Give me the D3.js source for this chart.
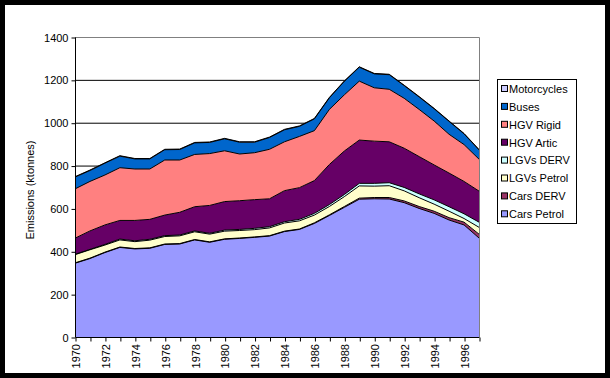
<!DOCTYPE html>
<html>
<head>
<meta charset="utf-8">
<script src="https://cdn.jsdelivr.net/npm/d3@7"></script>
<style>
  html, body { margin: 0; padding: 0; background: #000; }
  svg { display: block; }
  text { font-family: Arial, "Liberation Sans", sans-serif; }
</style>
</head>
<body>
<svg id="chart" width="610" height="378"></svg>
<script>
// ---- data ----
const years = [1970,1971,1972,1973,1974,1975,1976,1977,1978,1979,1980,1981,1982,1983,
               1984,1985,1986,1987,1988,1989,1990,1991,1992,1993,1994,1995,1996,1997];
const carsPetrol  = [344,366,394,418,411,414,432,434,453,442,456,460,465,471,492,502,530,567,605,643,645,644,627,600,577,546,523,462];
const carsDERV    = [2,2,2,2,2,2,2,2,2,2,2,2,2,2,2,2,3,3,4,5,6,7,8,9,10,11,13,18];
const lgvPetrol   = [38,39,33,33,32,36,35,36,36,36,36,35,34,36,38,38,36,39,46,57,53,55,47,41,33,30,17,32];
const lgvDERV     = [2,2,3,4,4,4,4,4,4,4,5,5,6,6,6,7,8,9,10,12,13,14,16,18,20,21,22,24];
const hgvArtic    = [75,86,91,87,95,93,96,106,113,130,133,134,134,130,145,148,153,187,203,202,197,191,183,174,163,157,151,145];
const hgvRigid    = [230,231,233,246,240,235,257,244,244,242,237,218,219,231,228,239,233,257,262,275,249,245,233,220,205,181,172,149];
const buses       = [55,51,55,54,47,47,48,49,54,52,56,55,49,55,56,47,55,54,63,65,65,68,59,58,57,60,50,43];
const motorcycles = [2,2,2,2,2,2,2,2,2,2,2,2,2,2,2,2,2,2,2,2,2,2,2,2,2,2,2,2];

const seriesNames = ["Cars Petrol","Cars DERV","LGVs Petrol","LGVs DERV","HGV Artic","HGV Rigid","Buses","Motorcycles"];
const seriesData  = [carsPetrol, carsDERV, lgvPetrol, lgvDERV, hgvArtic, hgvRigid, buses, motorcycles];
const seriesColors = ["#9999FF","#993366","#FFFFCC","#CCFFFF","#660066","#FF8080","#0066CC","#CCCCFF"];
const yTicks = [0,200,400,600,800,1000,1200,1400];
const xLabelYears = [1970,1972,1974,1976,1978,1980,1982,1984,1986,1988,1990,1992,1994,1996];
const yTitle = "Emissions (ktonnes)";

// ---- build table ----
const table = years.map((y, i) => {
  const row = { year: y };
  seriesNames.forEach((n, k) => row[n] = seriesData[k][i]);
  return row;
});
const stacked = d3.stack().keys(seriesNames)(table);

const svg = d3.select("#chart");
// frame
svg.append("rect").attr("x",0).attr("y",0).attr("width",610).attr("height",378).attr("fill","#000");
svg.append("rect").attr("x",5).attr("y",5).attr("width",600).attr("height",368).attr("fill","#fff");

const L = 75, R = 479, T = 37, B = 337;
const x = d3.scalePoint().domain(years).range([L, R]).padding(0);
const y = d3.scaleLinear().domain([0, 1400]).range([B, T]);

// gridlines
svg.append("g").selectAll("line").data(yTicks.filter(v => v > 0 && v < 1400)).join("line")
  .attr("x1", L).attr("x2", R).attr("y1", d => y(d) + 0.5).attr("y2", d => y(d) + 0.5)
  .attr("stroke", "#000").attr("stroke-width", 1);

// areas
const area = d3.area().x(d => x(d.data.year)).y0(d => y(d[0])).y1(d => y(d[1]));
svg.append("g").selectAll("path").data(stacked).join("path")
  .attr("d", area).attr("fill", (d, i) => seriesColors[i]);

// outlines of each layer top
const line = d3.line().x(d => x(d.data.year)).y(d => y(d[1]));
svg.append("g").selectAll("path").data(stacked).join("path")
  .attr("d", line).attr("fill", "none").attr("stroke", "#000").attr("stroke-width", 1);

// plot border (gray top & right)
svg.append("path")
  .attr("d", `M${L},${T + 0.5}H${R + 0.5}V${B}`)
  .attr("fill", "none").attr("stroke", "#808080").attr("stroke-width", 1);

// y axis
const yAxis = d3.axisLeft(y).tickValues(yTicks).tickSize(4).tickPadding(3).tickFormat(d3.format("d"));
const gy = svg.append("g").attr("transform", `translate(${L + 0.5},0.5)`).call(yAxis);
gy.select(".domain").attr("stroke", "#000").attr("d", `M-0,${T}V${B}`);
gy.selectAll(".tick line").attr("stroke", "#000");
gy.selectAll("text").attr("font-size", 11).attr("fill", "#000")
  .attr("font-family", "Arial, 'Liberation Sans', sans-serif");

// x axis
const xAxis = d3.axisBottom(x).tickSize(4).tickFormat("");
const gx = svg.append("g").attr("transform", `translate(0.5,${B + 0.5})`).call(xAxis);
gx.select(".domain").attr("stroke", "#000").attr("d", `M${L},0H${R}`);
gx.selectAll(".tick line").attr("stroke", "#000");

svg.append("g").selectAll("text").data(xLabelYears).join("text")
  .attr("transform", d => `translate(${x(d) + 1},${B + 7}) rotate(-90)`)
  .attr("text-anchor", "end").attr("dy", "0.35em")
  .attr("font-size", 11).attr("fill", "#000")
  .text(d => d);

// y title
svg.append("text")
  .attr("transform", `translate(30,190) rotate(-90)`)
  .attr("text-anchor", "middle").attr("dy", "0.35em")
  .attr("font-size", 11).attr("fill", "#000")
  .text(yTitle);

// legend
const lg = svg.append("g");
lg.append("rect").attr("x", 497.5).attr("y", 79.5).attr("width", 79).attr("height", 144)
  .attr("fill", "#fff").attr("stroke", "#000").attr("stroke-width", 1);
const legendOrder = seriesNames.map((n, i) => i).reverse();
legendOrder.forEach((k, j) => {
  const cy = 89 + j * 17.9;
  lg.append("rect").attr("x", 501.5).attr("y", cy - 3.5).attr("width", 6).attr("height", 6)
    .attr("fill", seriesColors[k]).attr("stroke", "#000").attr("stroke-width", 1);
  lg.append("text").attr("x", 509).attr("y", cy).attr("dy", "0.35em")
    .attr("font-size", 11).attr("fill", "#000").text(seriesNames[k]);
});
</script>
</body>
</html>
